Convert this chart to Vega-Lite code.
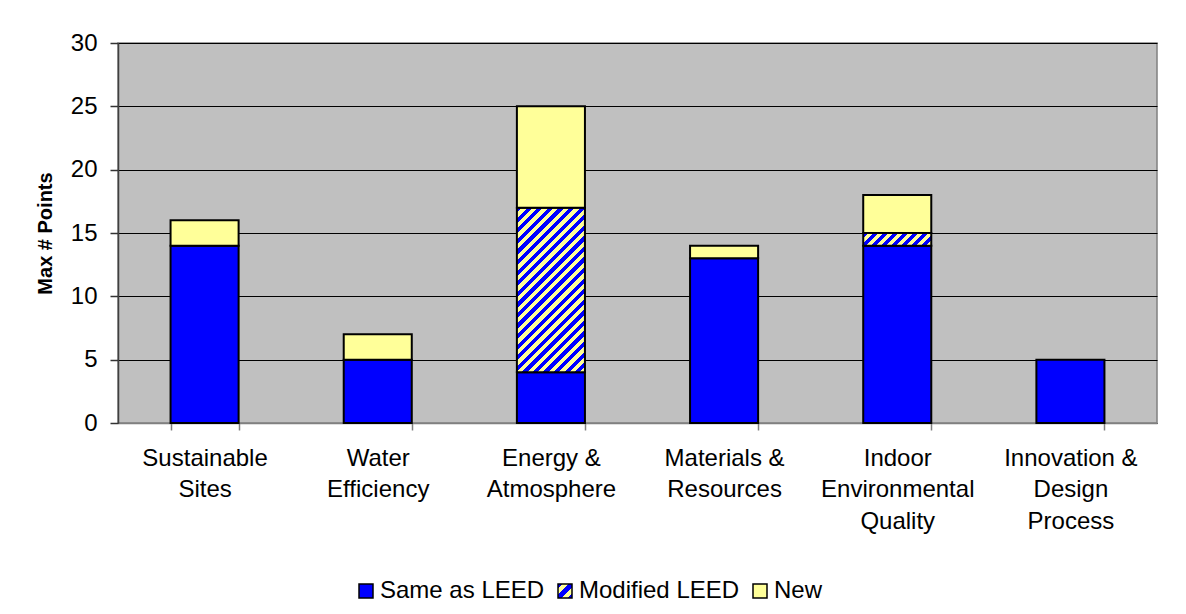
{
  "$schema": "https://vega.github.io/schema/vega-lite/v6.json",
  "autosize": {"type": "none"},
  "padding": {"left": 118, "top": 43, "right": 29, "bottom": 191},
  "width": 1039,
  "height": 380,
  "background": "white",
  "data": {
    "values": [
      {"cat": "Sustainable Sites", "type": "Same as LEED", "value": 14, "o": 1},
      {"cat": "Sustainable Sites", "type": "New", "value": 2, "o": 3},
      {"cat": "Water Efficiency", "type": "Same as LEED", "value": 5, "o": 1},
      {"cat": "Water Efficiency", "type": "New", "value": 2, "o": 3},
      {"cat": "Energy & Atmosphere", "type": "Same as LEED", "value": 4, "o": 1},
      {"cat": "Energy & Atmosphere", "type": "Modified LEED", "value": 13, "o": 2},
      {"cat": "Energy & Atmosphere", "type": "New", "value": 8, "o": 3},
      {"cat": "Materials & Resources", "type": "Same as LEED", "value": 13, "o": 1},
      {"cat": "Materials & Resources", "type": "New", "value": 1, "o": 3},
      {"cat": "Indoor Environmental Quality", "type": "Same as LEED", "value": 14, "o": 1},
      {"cat": "Indoor Environmental Quality", "type": "Modified LEED", "value": 1, "o": 2},
      {"cat": "Indoor Environmental Quality", "type": "New", "value": 3, "o": 3},
      {"cat": "Innovation & Design Process", "type": "Same as LEED", "value": 5, "o": 1}
    ]
  },
  "layer": [
    {
      "mark": {"type": "bar", "stroke": "black", "strokeWidth": 2},
      "encoding": {
        "x": {
          "field": "cat",
          "type": "nominal",
          "sort": null,
          "title": null,
          "scale": {"paddingInner": 0.607, "paddingOuter": 0.3035},
          "axis": {
            "labelAngle": 0,
            "labelExpr": "datum.label === 'Sustainable Sites' ? ['Sustainable','Sites'] : datum.label === 'Water Efficiency' ? ['Water','Efficiency'] : datum.label === 'Energy & Atmosphere' ? ['Energy &','Atmosphere'] : datum.label === 'Materials & Resources' ? ['Materials &','Resources'] : datum.label === 'Indoor Environmental Quality' ? ['Indoor','Environmental','Quality'] : datum.label === 'Innovation & Design Process' ? ['Innovation &','Design','Process'] : ''",
            "labelFont": "Liberation Sans",
            "labelFontSize": 24,
            "labelColor": "black",
            "labelLineHeight": 31.7,
            "labelPadding": 16,
            "labelBaseline": "top",
            "labelLimit": 400,
            "tickSize": 7,
            "tickBand": "extent",
            "tickColor": "#808080",
            "tickWidth": 1.5,
            "domainColor": "#808080",
            "domainWidth": 1.5,
            "grid": false
          }
        },
        "y": {
          "field": "value",
          "type": "quantitative",
          "stack": "zero",
          "scale": {"domain": [0, 30], "nice": false},
          "axis": {
            "title": "Max # Points",
            "titleFont": "Liberation Sans",
            "titleFontSize": 20,
            "titleFontWeight": "bold",
            "titleColor": "black",
            "titlePadding": 15,
            "values": [0, 5, 10, 15, 20, 25, 30],
            "labelFont": "Liberation Sans",
            "labelFontSize": 24,
            "labelColor": "black",
            "labelPadding": 13,
            "tickSize": 8,
            "tickColor": "#333333",
            "tickWidth": 1.5,
            "domainColor": "#404040",
            "domainWidth": 1.5,
            "grid": true,
            "gridColor": "black",
            "gridWidth": 1
          }
        },
        "order": {"field": "o"},
        "fill": {
          "field": "type",
          "type": "nominal",
          "scale": {
            "domain": ["Same as LEED", "Modified LEED", "New"],
            "range": ["#0000FF", "url(#gradient_2)", "#FFFF99"]
          },
          "condition": [
            {
              "test": "datum.type === 'Modified LEED' && datum.cat === 'Indoor Environmental Quality'",
              "value": {
                "gradient": "linear", "x1": 0, "y1": 0, "x2": 1.1465, "y2": 0.2134,
                "stops": [
                  {"offset": 0, "color": "#0000FF"}, {"offset": 0.0625, "color": "#0000FF"}, {"offset": 0.0625, "color": "#FFFF99"}, {"offset": 0.125, "color": "#FFFF99"},
                  {"offset": 0.125, "color": "#0000FF"}, {"offset": 0.1875, "color": "#0000FF"}, {"offset": 0.1875, "color": "#FFFF99"}, {"offset": 0.25, "color": "#FFFF99"},
                  {"offset": 0.25, "color": "#0000FF"}, {"offset": 0.3125, "color": "#0000FF"}, {"offset": 0.3125, "color": "#FFFF99"}, {"offset": 0.375, "color": "#FFFF99"},
                  {"offset": 0.375, "color": "#0000FF"}, {"offset": 0.4375, "color": "#0000FF"}, {"offset": 0.4375, "color": "#FFFF99"}, {"offset": 0.5, "color": "#FFFF99"},
                  {"offset": 0.5, "color": "#0000FF"}, {"offset": 0.5625, "color": "#0000FF"}, {"offset": 0.5625, "color": "#FFFF99"}, {"offset": 0.625, "color": "#FFFF99"},
                  {"offset": 0.625, "color": "#0000FF"}, {"offset": 0.6875, "color": "#0000FF"}, {"offset": 0.6875, "color": "#FFFF99"}, {"offset": 0.75, "color": "#FFFF99"},
                  {"offset": 0.75, "color": "#0000FF"}, {"offset": 0.8125, "color": "#0000FF"}, {"offset": 0.8125, "color": "#FFFF99"}, {"offset": 0.875, "color": "#FFFF99"},
                  {"offset": 0.875, "color": "#0000FF"}, {"offset": 0.9375, "color": "#0000FF"}, {"offset": 0.9375, "color": "#FFFF99"}, {"offset": 1, "color": "#FFFF99"}
                ]
              }
            },
            {
              "test": "datum.type === 'Modified LEED'",
              "value": {
                "gradient": "linear", "x1": 0, "y1": 0, "x2": 0.4988, "y2": 1.2071,
                "stops": [
                  {"offset": 0, "color": "#0000FF"}, {"offset": 0.0227, "color": "#0000FF"}, {"offset": 0.0227, "color": "#FFFF99"}, {"offset": 0.0455, "color": "#FFFF99"},
                  {"offset": 0.0455, "color": "#0000FF"}, {"offset": 0.0682, "color": "#0000FF"}, {"offset": 0.0682, "color": "#FFFF99"}, {"offset": 0.0909, "color": "#FFFF99"},
                  {"offset": 0.0909, "color": "#0000FF"}, {"offset": 0.1136, "color": "#0000FF"}, {"offset": 0.1136, "color": "#FFFF99"}, {"offset": 0.1364, "color": "#FFFF99"},
                  {"offset": 0.1364, "color": "#0000FF"}, {"offset": 0.1591, "color": "#0000FF"}, {"offset": 0.1591, "color": "#FFFF99"}, {"offset": 0.1818, "color": "#FFFF99"},
                  {"offset": 0.1818, "color": "#0000FF"}, {"offset": 0.2045, "color": "#0000FF"}, {"offset": 0.2045, "color": "#FFFF99"}, {"offset": 0.2273, "color": "#FFFF99"},
                  {"offset": 0.2273, "color": "#0000FF"}, {"offset": 0.25, "color": "#0000FF"}, {"offset": 0.25, "color": "#FFFF99"}, {"offset": 0.2727, "color": "#FFFF99"},
                  {"offset": 0.2727, "color": "#0000FF"}, {"offset": 0.2955, "color": "#0000FF"}, {"offset": 0.2955, "color": "#FFFF99"}, {"offset": 0.3182, "color": "#FFFF99"},
                  {"offset": 0.3182, "color": "#0000FF"}, {"offset": 0.3409, "color": "#0000FF"}, {"offset": 0.3409, "color": "#FFFF99"}, {"offset": 0.3636, "color": "#FFFF99"},
                  {"offset": 0.3636, "color": "#0000FF"}, {"offset": 0.3864, "color": "#0000FF"}, {"offset": 0.3864, "color": "#FFFF99"}, {"offset": 0.4091, "color": "#FFFF99"},
                  {"offset": 0.4091, "color": "#0000FF"}, {"offset": 0.4318, "color": "#0000FF"}, {"offset": 0.4318, "color": "#FFFF99"}, {"offset": 0.4545, "color": "#FFFF99"},
                  {"offset": 0.4545, "color": "#0000FF"}, {"offset": 0.4773, "color": "#0000FF"}, {"offset": 0.4773, "color": "#FFFF99"}, {"offset": 0.5, "color": "#FFFF99"},
                  {"offset": 0.5, "color": "#0000FF"}, {"offset": 0.5227, "color": "#0000FF"}, {"offset": 0.5227, "color": "#FFFF99"}, {"offset": 0.5455, "color": "#FFFF99"},
                  {"offset": 0.5455, "color": "#0000FF"}, {"offset": 0.5682, "color": "#0000FF"}, {"offset": 0.5682, "color": "#FFFF99"}, {"offset": 0.5909, "color": "#FFFF99"},
                  {"offset": 0.5909, "color": "#0000FF"}, {"offset": 0.6136, "color": "#0000FF"}, {"offset": 0.6136, "color": "#FFFF99"}, {"offset": 0.6364, "color": "#FFFF99"},
                  {"offset": 0.6364, "color": "#0000FF"}, {"offset": 0.6591, "color": "#0000FF"}, {"offset": 0.6591, "color": "#FFFF99"}, {"offset": 0.6818, "color": "#FFFF99"},
                  {"offset": 0.6818, "color": "#0000FF"}, {"offset": 0.7045, "color": "#0000FF"}, {"offset": 0.7045, "color": "#FFFF99"}, {"offset": 0.7273, "color": "#FFFF99"},
                  {"offset": 0.7273, "color": "#0000FF"}, {"offset": 0.75, "color": "#0000FF"}, {"offset": 0.75, "color": "#FFFF99"}, {"offset": 0.7727, "color": "#FFFF99"},
                  {"offset": 0.7727, "color": "#0000FF"}, {"offset": 0.7955, "color": "#0000FF"}, {"offset": 0.7955, "color": "#FFFF99"}, {"offset": 0.8182, "color": "#FFFF99"},
                  {"offset": 0.8182, "color": "#0000FF"}, {"offset": 0.8409, "color": "#0000FF"}, {"offset": 0.8409, "color": "#FFFF99"}, {"offset": 0.8636, "color": "#FFFF99"},
                  {"offset": 0.8636, "color": "#0000FF"}, {"offset": 0.8864, "color": "#0000FF"}, {"offset": 0.8864, "color": "#FFFF99"}, {"offset": 0.9091, "color": "#FFFF99"},
                  {"offset": 0.9091, "color": "#0000FF"}, {"offset": 0.9318, "color": "#0000FF"}, {"offset": 0.9318, "color": "#FFFF99"}, {"offset": 0.9545, "color": "#FFFF99"},
                  {"offset": 0.9545, "color": "#0000FF"}, {"offset": 0.9773, "color": "#0000FF"}, {"offset": 0.9773, "color": "#FFFF99"}, {"offset": 1, "color": "#FFFF99"}
                ]
              }
            }
          ],
          "legend": {
            "title": null,
            "orient": "none",
            "legendX": 236,
            "legendY": 536,
            "direction": "horizontal",
            "padding": 0,
            "symbolType": "square",
            "symbolSize": 196,
            "symbolStrokeColor": "black",
            "symbolStrokeWidth": 1.5,
            "symbolOpacity": 1,
            "labelFont": "Liberation Sans",
            "labelFontSize": 24,
            "labelColor": "black",
            "labelOffset": 2,
            "labelLimit": 400,
            "columnPadding": 8
          }
        }
      }
    },
    {
      "transform": [{"filter": "datum.cat === 'Innovation & Design Process'"}],
      "mark": {
        "type": "bar",
        "fillOpacity": 0,
        "strokeOpacity": 0,
        "fill": {
          "gradient": "linear", "x1": 0, "y1": 0, "x2": 1, "y2": 1,
          "stops": [
            {"offset": 0, "color": "#0000FF"}, {"offset": 0.15, "color": "#0000FF"}, {"offset": 0.15, "color": "#FFFF99"}, {"offset": 0.38, "color": "#FFFF99"},
            {"offset": 0.38, "color": "#0000FF"}, {"offset": 0.62, "color": "#0000FF"}, {"offset": 0.62, "color": "#FFFF99"}, {"offset": 0.85, "color": "#FFFF99"},
            {"offset": 0.85, "color": "#0000FF"}, {"offset": 1, "color": "#0000FF"}
          ]
        }
      },
      "encoding": {
        "x": {"field": "cat", "type": "nominal", "sort": null},
        "y": {"field": "value", "type": "quantitative", "stack": null}
      }
    }
  ],
  "config": {
    "view": {"fill": "#C0C0C0", "stroke": "#808080", "strokeWidth": 1.5}
  }
}
